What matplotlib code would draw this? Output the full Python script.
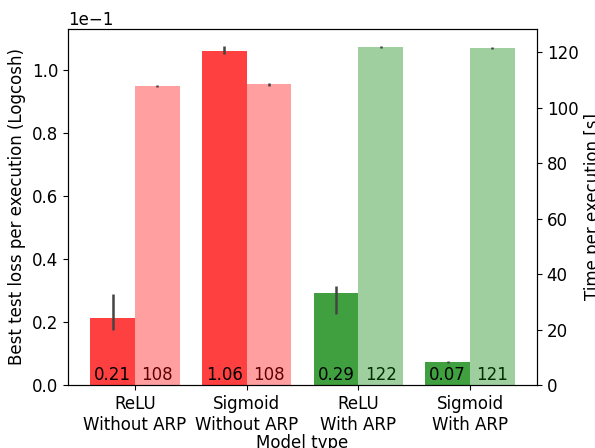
import matplotlib
matplotlib.use("Agg")
import matplotlib.pyplot as plt
import numpy as np

# data
models = ["ReLU\nWithout ARP", "Sigmoid\nWithout ARP", "ReLU\nWith ARP", "Sigmoid\nWith ARP"]
loss = [0.0214, 0.1060, 0.0293, 0.0073]
loss_err_low = [0.0040, 0.0009, 0.0068, 0.0002]
loss_err_high = [0.0075, 0.0016, 0.0021, 0.0002]
times = [107.8, 108.3, 121.9, 121.4]
time_err = [0.4, 0.4, 0.4, 0.4]
base_colors = ["red", "red", "green", "green"]

plt.rcParams["font.size"] = 12

fig = plt.figure(figsize=(5.95, 4.48), dpi=100)
ax1 = fig.add_axes([0.1143, 0.1406, 0.7882, 0.7947])
ax2 = ax1.twinx()

x = np.arange(len(models))
width = 0.4

ax1.bar(x - width / 2, loss, width, color=base_colors, alpha=0.75, lw=0)
ax1.errorbar(x - width / 2, loss, yerr=[loss_err_low, loss_err_high],
             fmt="none", ecolor="#444444", elinewidth=1.8, capsize=0)
ax2.bar(x + width / 2, times, width, color=base_colors, alpha=0.375, lw=0)
ax2.errorbar(x + width / 2, times, yerr=time_err,
             fmt="none", ecolor="#444444", elinewidth=1.8, capsize=0)

# value labels, all on ax1 so the time bars lie over their labels
for xi, lv, tv in zip(x, loss, times):
    ax1.text(xi - width / 2, 0.0004, f"{lv * 10:.2f}", ha="center", va="bottom",
             fontsize=12, color="black", zorder=5)
    ax1.text(xi + width / 2, 0.0004, f"{tv:.0f}", ha="center", va="bottom",
             fontsize=12, color="black", zorder=5)

ax1.set_xlim(-0.6, 3.6)
ax1.set_ylim(0, 0.113)
ax2.set_ylim(0, 128.3)
ax1.set_xticks(x)
ax1.set_xticklabels(models)
ax1.ticklabel_format(axis="y", style="sci", scilimits=(0, 0))
ax1.set_yticks([0, 0.02, 0.04, 0.06, 0.08, 0.10])
ax2.set_yticks([0, 20, 40, 60, 80, 100, 120])

ax1.set_xlabel("Model type", labelpad=0)
ax1.set_ylabel("Best test loss per execution (Logcosh)")
ax2.set_ylabel("Time per execution [s]")

fig.savefig("out.png", dpi=100)
